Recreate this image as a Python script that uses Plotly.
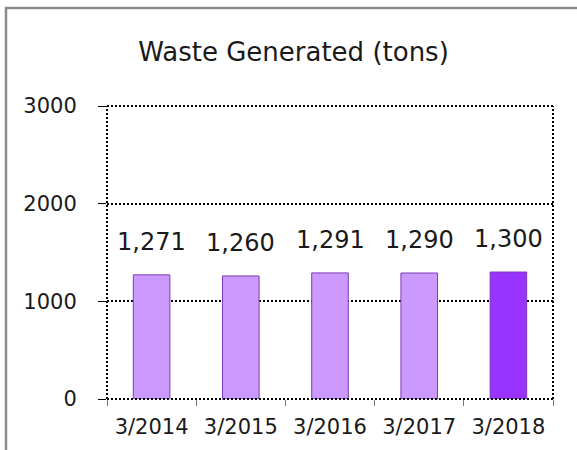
import plotly.graph_objects as go

categories = ["3/2014", "3/2015", "3/2016", "3/2017", "3/2018"]
waste_tons = [1271, 1260, 1291, 1290, 1300]
y_ticks = [0, 1000, 2000, 3000]
title_text = "Waste Generated (tons)"

FONT = "DejaVu Sans"
LIGHT = "#CC99FF"
DARK = "#9933FF"
EDGE = "#7A3DB8"
DOT = "2px,2px"

bar_colors = [LIGHT] * (len(categories) - 1) + [DARK]

fig = go.Figure()
fig.add_trace(go.Bar(
    x=categories, y=waste_tons,
    marker=dict(color=bar_colors, line=dict(color=EDGE, width=1)),
    width=0.41, hoverinfo="x+y",
))

for c, v in zip(categories, waste_tons):
    fig.add_annotation(x=c, y=v, text=f"{v:,}", showarrow=False,
                       yanchor="bottom", yshift=17,
                       font=dict(family=FONT, size=24, color="#1a1a1a"))

# frame lines (dotted)
for (x0, y0, x1, y1) in [(0, 0, 0, 1), (1, 0, 1, 1), (0, 0, 1, 0), (0, 1, 1, 1)]:
    fig.add_shape(type="line", xref="paper", yref="paper", x0=x0, y0=y0, x1=x1, y1=y1,
                  line=dict(color="black", width=2, dash=DOT))

# outer gray border
fig.add_shape(type="rect", xref="paper", yref="paper",
              x0=(6 - 107) / 446, x1=1.3, y0=-0.4, y1=(399 - 8) / 293,
              line=dict(color="#8c8c8c", width=2.5), fillcolor="rgba(0,0,0,0)")

fig.update_layout(
    width=577, height=450,
    margin=dict(l=107, r=24, t=106, b=51),
    paper_bgcolor="white", plot_bgcolor="white",
    showlegend=False,
    font=dict(family=FONT, color="#1a1a1a"),
    title=dict(text=title_text, x=293.5 / 577, xanchor="center",
               y=1 - 52 / 450, yanchor="middle", yref="container",
               font=dict(family=FONT, size=26, color="#1a1a1a")),
    bargap=0.59,
)
fig.update_xaxes(type="category", showgrid=False, showline=False, zeroline=False,
                 tickson="boundaries", ticks="outside", ticklen=6, tickwidth=1,
                 tickcolor="#777777", ticklabelstandoff=13,
                 tickfont=dict(family=FONT, size=21, color="#1a1a1a"))
fig.update_yaxes(range=[0, 3000], tickvals=y_ticks, showgrid=True,
                 gridcolor="black", gridwidth=2, griddash=DOT,
                 showline=False, zeroline=False,
                 ticks="outside", ticklen=8, tickwidth=1, tickcolor="black",
                 ticklabelstandoff=17,
                 tickfont=dict(family=FONT, size=21, color="#1a1a1a"))

fig.write_html("out.html", config={"displayModeBar": False},
               post_script="document.body.style.margin='0px';document.body.style.padding='0px';")
